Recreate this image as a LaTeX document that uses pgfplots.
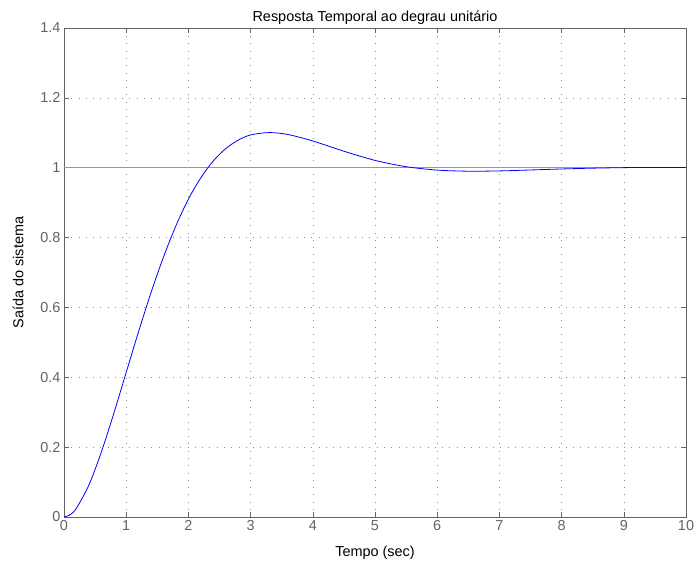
\documentclass[border=0pt]{standalone}
\usepackage{fontspec}
\setmainfont{Liberation Sans}
\usepackage{pgfplots}
\pgfplotsset{compat=1.18}
\definecolor{axgray}{RGB}{100,100,100}
\definecolor{gridgray}{RGB}{140,140,140}
\definecolor{refline}{RGB}{150,150,150}
\begin{document}
\begin{tikzpicture}
  \begin{axis}[
      scale only axis,
      width=622bp, height=489bp,
      xmin=0, xmax=10, ymin=0, ymax=1.4,
      xtick={0,1,...,10},
      ytick={0,0.2,...,1.4},
      tick align=inside,
      major tick length=5bp,
      axis line style={axgray, line width=0.8pt},
      every tick/.style={axgray, line width=0.6pt},
      tick label style={text=axgray, font=\fontsize{14.5}{16}\selectfont},
      /pgf/number format/assume math mode=true,
      yticklabel style={/pgf/number format/fixed, /pgf/number format/precision=1},
      grid=major,
      major grid style={gridgray, line width=0.6pt, dash pattern=on 0.8pt off 6.5pt},
      title={Resposta Temporal ao degrau unitário},
      title style={font=\fontsize{14.5}{16}\selectfont, yshift=-6bp},
      xlabel={Tempo (sec)},
      ylabel={Saída do sistema},
      label style={font=\fontsize{14.5}{16}\selectfont},
      xlabel style={yshift=-8bp},
      ylabel style={yshift=10bp},
      clip=false,
    ]
    \addplot[refline, line width=0.7pt] coordinates {(0,1) (10,1)};
    \addplot[blue, line width=0.8pt, smooth] coordinates {
        (0,0) (0.1,0.0066) (0.2,0.0252) (0.4,0.0915) (0.6,0.1856) (0.8,0.2962)
        (1.0,0.414) (1.2,0.5314) (1.4,0.6429) (1.6,0.7446) (1.8,0.834)
        (2.0,0.910) (2.2,0.9712) (2.4,1.0192) (2.6,1.0547) (2.8,1.0789)
        (3.0,1.0939) (3.3,1.1006) (3.6,1.0951) (4.0,1.0765) (4.5,1.0472)
        (5.0,1.021) (5.5,1.0029) (6.0,0.9932) (6.5,0.990) (7.0,0.9908)
        (7.5,0.9935) (8.0,0.9964) (8.5,0.9987) (9.0,1.0002) (9.5,1.0008)
        (10,1.0007)
    };
    \coordinate (ll) at (rel axis cs:0,0);
    \coordinate (ur) at (rel axis cs:1,1);
  \end{axis}
  \path (ll) ++(-64bp,-51bp) coordinate (bbll);
  \path (ur) ++(13bp,28bp) coordinate (bbur);
  \path (bbll) rectangle (bbur);
\end{tikzpicture}
\end{document}
